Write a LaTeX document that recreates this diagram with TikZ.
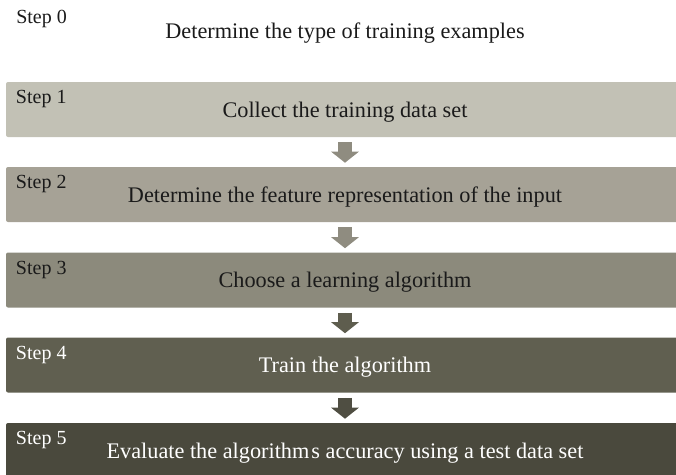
\documentclass[tikz,border=0pt]{standalone}
\usepackage{fontspec}
\setmainfont{Liberation Serif}
\usetikzlibrary{arrows.meta,calc}
\definecolor{boxA}{HTML}{C2C1B5}
\definecolor{boxB}{HTML}{A6A296}
\definecolor{boxC}{HTML}{8C8A7C}
\definecolor{boxD}{HTML}{605F50}
\definecolor{boxE}{HTML}{4A493D}
\definecolor{arrLight}{HTML}{8F8C80}
\definecolor{arrDarkA}{HTML}{5E5D4E}
\definecolor{arrDarkB}{HTML}{4F4E42}
\definecolor{inkDark}{HTML}{1A1A1A}
\tikzset{
  stepbox/.style={rectangle, rounded corners=1.5pt, minimum width=508.5pt,
    minimum height=41.25pt, inner sep=0pt, text height=11.25pt, text depth=0pt,
    font=\rmfamily\fontsize{16.7}{20}\selectfont, text=inkDark},
  steplabel/.style={anchor=base west, inner sep=0pt,
    font=\rmfamily\fontsize{15}{18}\selectfont, text=inkDark},
  flowarr/.style={line width=10.5pt, line cap=butt,
    -{Triangle[width=20.25pt 0 0, length=8.25pt 0 0]}}
}
\begin{document}
\begin{tikzpicture}[x=0.75pt, y=-0.75pt]
      \useasboundingbox (0,0) rectangle (676,475);
      \clip (0,0) rectangle (676,475);
      % step 0 has no box
      \node[steplabel] (s0) at (16,23) {Step 0};
      \node[anchor=base, inner sep=0pt, font=\rmfamily\fontsize{16.7}{20}\selectfont,
        text=inkDark] (t0) at (345,38) {Determine the type of training examples};
      % boxes
      \node[stepbox, fill=boxA] (b1) at (345,109.5) {Collect the training data set};
      \node[stepbox, fill=boxB] (b2) at (345,194.5) {Determine the feature representation of the input};
      \node[stepbox, fill=boxC] (b3) at (345,280) {Choose a learning algorithm};
      \node[stepbox, fill=boxD, text=white] (b4) at (345,365) {Train the algorithm};
      \node[stepbox, fill=boxE, text=white] (b5) at (345,450.5) {Evaluate the algorithm\kern1.5pt s accuracy using a test data set};
      % labels
      \node[steplabel] (s1) at ($(b1.north west)+(10,22)$) {Step 1};
      \node[steplabel] (s2) at ($(b2.north west)+(10,22)$) {Step 2};
      \node[steplabel] (s3) at ($(b3.north west)+(10,22)$) {Step 3};
      \node[steplabel, text=white] (s4) at ($(b4.north west)+(10,22)$) {Step 4};
      \node[steplabel, text=white] (s5) at ($(b5.north west)+(10,22)$) {Step 5};
      % arrows
      \draw[flowarr, draw=arrLight, fill=arrLight] ($(b1.south)+(0,5)$) -- ($(b2.north)+(0,-4)$);
      \draw[flowarr, draw=arrLight, fill=arrLight] ($(b2.south)+(0,5)$) -- ($(b3.north)+(0,-4)$);
      \draw[flowarr, draw=arrDarkA, fill=arrDarkA] ($(b3.south)+(0,5)$) -- ($(b4.north)+(0,-4)$);
      \draw[flowarr, draw=arrDarkB, fill=arrDarkB] ($(b4.south)+(0,5)$) -- ($(b5.north)+(0,-4)$);
    \end{tikzpicture}
\end{document}
